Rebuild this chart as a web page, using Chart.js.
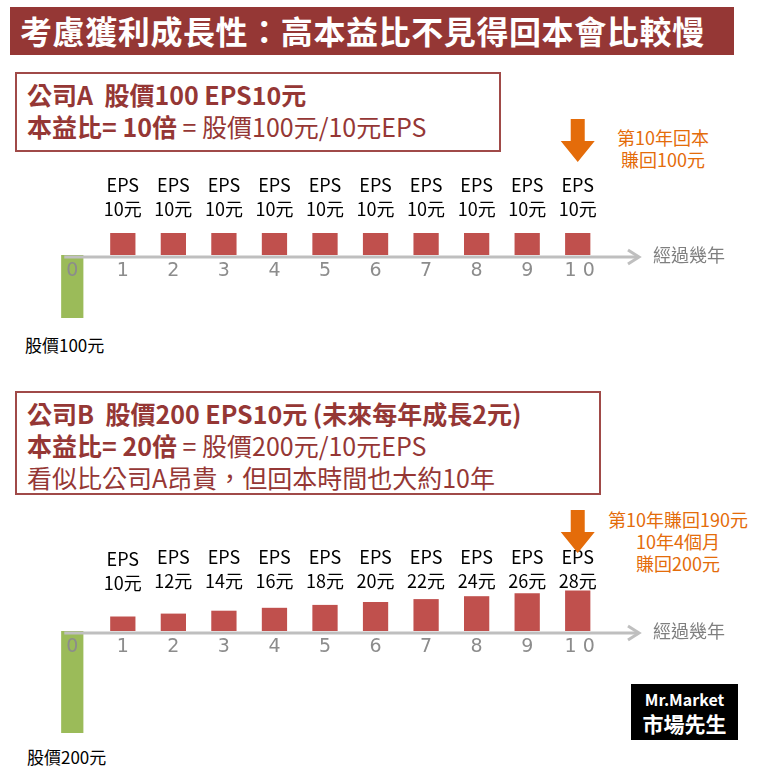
<!DOCTYPE html>
<html><head><meta charset="utf-8">
<script src="https://cdn.jsdelivr.net/npm/chart.js@4"></script>
<style>
body{margin:0;width:766px;height:779px;background:#fff;position:relative;overflow:hidden;font-family:"Noto Sans CJK TC","Noto Sans",sans-serif;}
.abs{position:absolute;white-space:nowrap;}
.title{left:10px;top:7px;width:724px;height:48px;background:#953735;color:#fff;font-weight:bold;font-size:32px;line-height:47px;text-indent:10px;letter-spacing:0.6px;}
.box{border:2px solid #a04a48;color:#953735;font-size:25px;line-height:32px;padding:4px 10px 0;box-sizing:border-box;}
.box b{font-weight:bold}
.org{color:#e46c0a;font-size:18px;line-height:22px;text-align:center;}
.lbl{font-size:17px;color:#000;}
canvas{position:absolute;left:0;}
</style></head><body>
<div class="abs title">考慮獲利成長性：高本益比不見得回本會比較慢</div>
<div class="abs box" style="left:15px;top:72px;width:486px;height:80px;"><b>公司A&nbsp; 股價100 EPS10元</b><br><b>本益比= 10倍</b> = 股價100元/10元EPS</div>
<div class="abs box" style="left:15px;top:391px;width:586px;height:104px;"><b>公司B&nbsp; 股價200 EPS10元 (未來每年成長2元)</b><br><b>本益比= 20倍</b> = 股價200元/10元EPS<br>看似比公司A昂貴，但回本時間也大約10年</div>
<div class="abs org" style="left:608px;top:126px;width:110px;">第10年回本<br>賺回100元</div>
<div class="abs org" style="left:596px;top:508px;width:164px;">第10年賺回190元<br>10年4個月<br>賺回200元</div>
<div class="abs lbl" style="left:25px;top:332px;">股價100元</div>
<div class="abs lbl" style="left:27px;top:744px;">股價200元</div>
<div class="abs" style="left:631px;top:684px;width:107px;height:56px;background:#000;color:#fff;font-weight:bold;text-align:center;font-size:16px;line-height:21px;padding-top:5px;box-sizing:border-box;">Mr.Market<br><span style="font-size:21px;line-height:26px">市場先生</span></div>
<canvas id="ca" style="top:110px" width="766" height="230"></canvas>
<canvas id="cb" style="top:495px" width="766" height="255"></canvas>
<script>
const years=['0','1','2','3','4','5','6','7','8','9','1 0'];
const priceA=[-100,null,null,null,null,null,null,null,null,null,null];
const epsA=[null,10,10,10,10,10,10,10,10,10,10];
const priceB=[-200,null,null,null,null,null,null,null,null,null,null];
const epsB=[null,10,12,14,16,18,20,22,24,26,28];
const axisName='經過幾年';

const deco={id:'deco',afterDatasetsDraw(c){
  const ctx=c.ctx,x=c.scales.x,y=c.scales.y;const z=y.getPixelForValue(0)+2;
  ctx.save();
  ctx.strokeStyle='#bfbfbf';ctx.lineWidth=3;
  const ax=x.right+36;
  ctx.beginPath();ctx.moveTo(x.getPixelForValue(0)-8,z);ctx.lineTo(ax-2,z);ctx.stroke();
  ctx.beginPath();ctx.moveTo(ax-11,z-7);ctx.lineTo(ax,z);ctx.lineTo(ax-11,z+7);ctx.stroke();
  ctx.fillStyle='#7f7f7f';ctx.font='18px "Noto Sans CJK TC"';ctx.textBaseline='middle';ctx.textAlign='left';
  ctx.fillText(axisName,ax+14,z-2);
  ctx.textAlign='center';ctx.font='19px "DejaVu Sans"';ctx.fillStyle='#8c8c8c';
  years.forEach((t,i)=>ctx.fillText(t,x.getPixelForValue(i)+(i==10?2:0),z+14));
  ctx.fillStyle='#000';ctx.font='18px "Noto Sans CJK TC"';
  const eps=c.data.datasets[1].data;
  const off=c.canvas.id=='cb'?50:48;
  eps.forEach((v,i)=>{if(v==null)return;const px=x.getPixelForValue(i);
    const top=z-off-(c.canvas.id=='cb'&&i>1?2:0);
    ctx.fillText('EPS',px,top-24);ctx.fillText(v+'元',px,top);});
  const px=x.getPixelForValue(10),at=z-138+(c.canvas.id=='cb'?15:0);
  ctx.fillStyle='#e46c0a';ctx.beginPath();
  ctx.moveTo(px-7,at);ctx.lineTo(px+7,at);ctx.lineTo(px+7,at+22);ctx.lineTo(px+17,at+22);ctx.lineTo(px,at+43);ctx.lineTo(px-17,at+22);ctx.lineTo(px-7,at+22);ctx.closePath();ctx.fill();
  ctx.restore();}};

function make(id,price,eps,epsMin,epsMax,pMin,pMax){
  new Chart(document.getElementById(id),{type:'bar',
    data:{labels:years,datasets:[
      {data:price,yAxisID:'y2',backgroundColor:'#9bbb59',grouped:false,barPercentage:0.44,categoryPercentage:1},
      {data:eps,yAxisID:'y',backgroundColor:'#c0504d',grouped:false,barPercentage:0.5,categoryPercentage:1}]},
    options:{responsive:false,animation:false,events:[],
      layout:{padding:{left:47,right:163,top:0,bottom:0}},
      plugins:{legend:{display:false},tooltip:{enabled:false}},
      scales:{x:{display:false},
        y:{display:false,min:epsMin,max:epsMax},
        y2:{display:false,min:pMin,max:pMax}}},
    plugins:[deco]});
}
make('ca',priceA,epsA,-85/2.2,145/2.2,-85/0.63,145/0.63);
make('cb',priceB,epsB,-119/1.45,136/1.45,-119/0.51,136/0.51);
</script></body></html>
